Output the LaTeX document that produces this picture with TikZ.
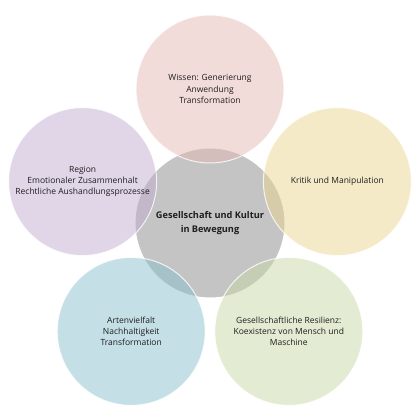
\documentclass[tikz,border=0pt]{standalone}
\usepackage{fontspec}
\setmainfont{Open Sans}
\usepackage{tikz}

\definecolor{wissen}{RGB}{229,185,179}
\definecolor{region}{RGB}{193,173,209}
\definecolor{kritik}{RGB}{235,213,145}
\definecolor{arten}{RGB}{139,191,205}
\definecolor{resil}{RGB}{199,215,167}
\definecolor{hubgrey}{RGB}{196,196,196}
\definecolor{txt}{RGB}{30,30,30}

\begin{document}
\begin{tikzpicture}[x=1pt,y=1pt]
\tikzset{hub/.style={circle,fill=hubgrey,draw=white,line width=1pt,minimum size=150pt,inner sep=0pt,
    align=center,text=txt,font=\fontsize{9.2}{13.3}\selectfont\bfseries}}
\tikzset{petal/.style={circle,fill=#1,fill opacity=0.5,text opacity=1,draw=white,draw opacity=0.8,line width=1pt,
    minimum size=148pt,inner sep=0pt,align=center,text=txt,font=\fontsize{8.5}{11.3}\selectfont}}

\useasboundingbox (0,0) rectangle (420,418);

\path (210,195) node[hub] (hub) {Gesellschaft und Kultur\\in Bewegung};

\path (210,329) node[petal=wissen] (wissen) {Wissen: Generierung\\Anwendung\\Transformation};
\path (337.4,236.4) node[petal=kritik] (kritik) {Kritik und Manipulation};
\path (288.8,86.6) node[petal=resil] (resil) {Gesellschaftliche Resilienz:\\Koexistenz von Mensch und\\Maschine};
\path (131.2,86.6) node[petal=arten] (arten) {Artenvielfalt\\Nachhaltigkeit\\Transformation};
\path (82.6,236.4) node[petal=region] (region) {Region\\Emotionaler Zusammenhalt\\Rechtliche Aushandlungsprozesse};

\end{tikzpicture}
\end{document}
